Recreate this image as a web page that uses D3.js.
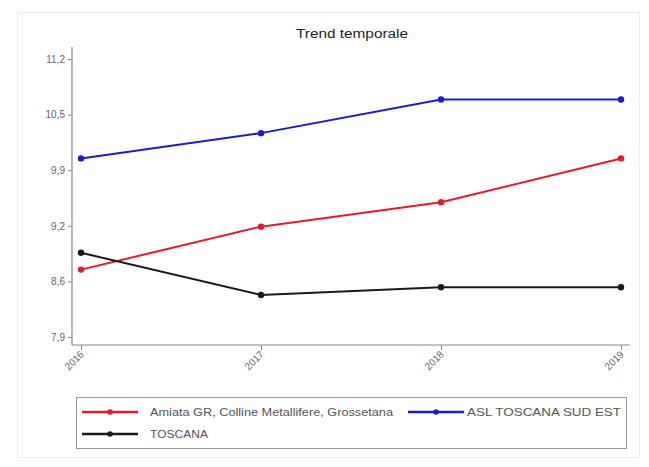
<!DOCTYPE html>
<html>
<head>
<meta charset="utf-8">
<script src="https://cdn.jsdelivr.net/npm/d3@7"></script>
<style>
  html, body { margin: 0; padding: 0; background: #fff; }
  svg { display: block; font-family: "Liberation Sans", Arial, sans-serif; }
</style>
</head>
<body>
<svg id="chart" width="649" height="467"></svg>
<script>
const years = ["2016", "2017", "2018", "2019"];
const seriesNames = ["Amiata GR, Colline Metallifere, Grossetana", "ASL TOSCANA SUD EST", "TOSCANA"];
const amiataValues = [8.70, 9.21, 9.50, 10.02];
const aslValues = [10.02, 10.32, 10.72, 10.72];
const toscanaValues = [8.90, 8.40, 8.49, 8.49];
const seriesColors = ["#e8192c", "#1a1ad0", "#1a1a1a"];
const yTickValues = [7.9, 8.56, 9.22, 9.88, 10.54, 11.2];
const yTickLabels = ["7,9", "8,6", "9,2", "9,9", "10,5", "11,2"];
const titleText = "Trend temporale";

const series = [
  { name: seriesNames[0], values: amiataValues, color: seriesColors[0] },
  { name: seriesNames[1], values: aslValues, color: seriesColors[1] },
  { name: seriesNames[2], values: toscanaValues, color: seriesColors[2] }
];

const svg = d3.select("#chart");

// faint outer frame
svg.append("rect").attr("x", 17.5).attr("y", 12.5).attr("width", 622).attr("height", 445)
  .attr("fill", "#fff").attr("stroke", "#eeeeee").attr("stroke-width", 1);

const x = d3.scalePoint().domain(years).range([81, 621]);
const y = d3.scaleLinear().domain([7.9, 11.2]).range([337, 59]);

const axisX0 = 72, axisY0 = 345;

// title
svg.append("text").attr("x", 352).attr("y", 38).attr("text-anchor", "middle")
  .attr("font-size", 12.5).attr("fill", "#222")
  .attr("textLength", 112).attr("lengthAdjust", "spacingAndGlyphs").text(titleText);

// y axis
const yAxis = d3.axisLeft(y).tickValues(yTickValues)
  .tickFormat((d, i) => yTickLabels[i]).tickSize(4).tickPadding(3);
const gy = svg.append("g").attr("transform", `translate(${axisX0},0)`).call(yAxis);
gy.select(".domain").remove();
gy.append("line").attr("x1", 0).attr("x2", 0).attr("y1", 47).attr("y2", axisY0)
  .attr("stroke", "#888").attr("stroke-width", 1.2);
gy.selectAll(".tick line").attr("stroke", "#888");
gy.selectAll(".tick text").attr("fill", "#666").attr("font-size", 10).attr("font-family", "Liberation Sans, Arial, sans-serif");

// x axis
const xAxis = d3.axisBottom(x).tickSize(5).tickPadding(3);
const gx = svg.append("g").attr("transform", `translate(0,${axisY0})`).call(xAxis);
gx.select(".domain").remove();
gx.append("line").attr("x1", axisX0).attr("x2", 630).attr("y1", 0).attr("y2", 0)
  .attr("stroke", "#888").attr("stroke-width", 1.2);
gx.selectAll(".tick line").attr("stroke", "#888");
gx.selectAll(".tick text")
  .attr("fill", "#666").attr("font-size", 10).attr("font-family", "Liberation Sans, Arial, sans-serif")
  .attr("text-anchor", "end").attr("dy", null).attr("y", 0)
  .attr("transform", "translate(3,10) rotate(-45)");

// lines
const line = d3.line().x((d, i) => x(years[i])).y(d => y(d));
series.forEach(s => {
  svg.append("path").datum(s.values).attr("d", line)
    .attr("fill", "none").attr("stroke", s.color).attr("stroke-width", 2);
  svg.selectAll(null).data(s.values).enter().append("circle")
    .attr("cx", (d, i) => x(years[i])).attr("cy", d => y(d)).attr("r", 3.2)
    .attr("fill", s.color);
});

// legend
const leg = svg.append("g");
leg.append("rect").attr("x", 76.5).attr("y", 397.5).attr("width", 550).attr("height", 51)
  .attr("fill", "#fff").attr("stroke", "#999").attr("stroke-width", 1);
const legPos = [
  { x: 82, y: 412, tw: 243 },
  { x: 408, y: 412, tw: 154 },
  { x: 82, y: 434, tw: 58 }
];
series.forEach((s, i) => {
  const p = legPos[i];
  leg.append("line").attr("x1", p.x).attr("x2", p.x + 56).attr("y1", p.y).attr("y2", p.y)
    .attr("stroke", s.color).attr("stroke-width", 2.6);
  leg.append("circle").attr("cx", p.x + 28).attr("cy", p.y).attr("r", 2.8).attr("fill", s.color);
  leg.append("text").attr("x", p.x + (i === 1 ? 59 : 68)).attr("y", p.y + 3.5)
    .attr("font-size", 10.5).attr("fill", "#555")
    .attr("textLength", p.tw).attr("lengthAdjust", "spacingAndGlyphs").text(s.name);
});
</script>
</body>
</html>
